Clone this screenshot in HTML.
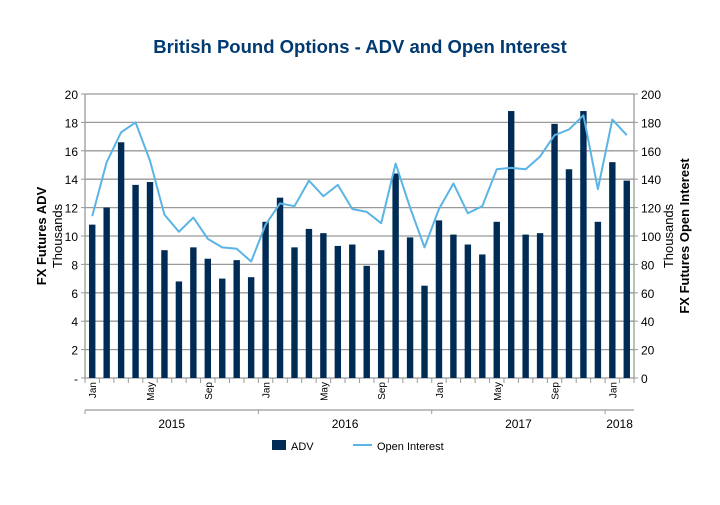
<!DOCTYPE html>
<html><head><meta charset="utf-8"><style>
body{margin:0;background:#fff;}
svg text{font-family:"Liberation Sans",sans-serif;}
</style></head><body>
<svg id="c" width="720" height="500" xmlns="http://www.w3.org/2000/svg">
<text x="360" y="53" text-anchor="middle" font-size="18.5" font-weight="bold" fill="#003a70">British Pound Options - ADV and Open Interest</text>
<g id="grid"></g><g id="bars"></g><g id="line"></g><g id="axes"></g>
<text transform="translate(46,236) rotate(-90)" text-anchor="middle" font-size="13" font-weight="bold" fill="#000">FX Futures ADV</text>
<text transform="translate(62,236) rotate(-90)" text-anchor="middle" font-size="13" fill="#000">Thousands</text>
<text transform="translate(689,236) rotate(-90)" text-anchor="middle" font-size="13" font-weight="bold" fill="#000">FX Futures Open Interest</text>
<text transform="translate(673,236) rotate(-90)" text-anchor="middle" font-size="13" fill="#000">Thousands</text>
<g>
<rect x="272" y="440" width="14" height="10" fill="#002b54"/>
<text x="291" y="450" font-size="11">ADV</text>
<line x1="353" y1="445" x2="372" y2="445" stroke="#5ab4e5" stroke-width="2"/>
<text x="377" y="450" font-size="11">Open Interest</text>
</g>
</svg>
<script>
const months=["Jan","Feb","Mar","Apr","May","Jun","Jul","Aug","Sep","Oct","Nov","Dec"];
const years=["2015","2016","2017","2018"];
const adv=[10.8,12,16.6,13.6,13.8,9,6.8,9.2,8.4,7,8.3,7.1,11,12.7,9.2,10.5,10.2,9.3,9.4,7.9,9,14.4,9.9,6.5,11.1,10.1,9.4,8.7,11,18.8,10.1,10.2,17.9,14.7,18.8,11,15.2,13.9];
const oi=[114,152,173,180,153,115,103,113,98,92,91,82,108,123,121,139,128,136,119,117,109,151,120,92,119,137,116,121,147,148,147,156,171,175,185,133,182,171];
const leftTicks=["-","2","4","6","8","10","12","14","16","18","20"];
const rightTicks=["0","20","40","60","80","100","120","140","160","180","200"];
const X0=85,X1=634,Y0=378,Y1=94,N=adv.length,bw=(X1-X0)/N;
const yL=v=>Y0-(v/20)*(Y0-Y1), yR=v=>Y0-(v/200)*(Y0-Y1), xc=i=>X0+bw*(i+0.5);
const NS="http://www.w3.org/2000/svg";
function mk(p,t,a){const e=document.createElementNS(NS,t);for(const k in a)e.setAttribute(k,a[k]);document.getElementById(p).appendChild(e);return e;}
leftTicks.forEach((t,i)=>{const y=yL(i*2);
 const g=mk('grid','line',{x1:X0,x2:X1,y1:y,y2:y,stroke:'#9a9a9a','stroke-width':1.3});
 
 
 const l=mk('axes','text',{x:X0-7,y:y+5,'text-anchor':'end','font-size':12});l.textContent=t;
 
 
 mk('axes','line',{x1:X0-4,x2:X0,y1:y,y2:y,stroke:'#9a9a9a'});
 const r=mk('axes','text',{x:X1+7,y:y+5,'font-size':12});r.textContent=rightTicks[i];
 
 
 mk('axes','line',{x1:X1,x2:X1+4,y1:y,y2:y,stroke:'#9a9a9a'});
});
mk('axes','line',{x1:X0,x2:X0,y1:Y1,y2:Y0,stroke:'#9a9a9a','stroke-width':1.3});
mk('axes','line',{x1:X1,x2:X1,y1:Y1,y2:Y0,stroke:'#9a9a9a','stroke-width':1.3});
adv.forEach((v,i)=>{const b=mk('bars','rect',{x:xc(i)-3.2,y:yL(v),width:6.4,height:Y0-yL(v),fill:'#002b54'});
 
 
 mk('axes','line',{x1:X0+bw*i,x2:X0+bw*i,y1:Y0,y2:Y0+5,stroke:'#9a9a9a'});
 if(i%4==0){const t=mk('axes','text',{transform:`translate(${xc(i)+4},${Y0+4}) rotate(-90)`,'text-anchor':'end','font-size':10});t.textContent=months[i%12];
  
  }
});
mk('axes','line',{x1:X1,x2:X1,y1:Y0,y2:Y0+5,stroke:'#9a9a9a'});
mk('axes','line',{x1:X0,x2:X1,y1:410,y2:410,stroke:'#9a9a9a','stroke-width':1.3});
years.forEach((yr,k)=>{const s=k*12,e=Math.min(N,s+12);
 mk('axes','line',{x1:X0+bw*s,x2:X0+bw*s,y1:410,y2:414,stroke:'#9a9a9a'});
 const t=mk('axes','text',{x:(X0+bw*s+X0+bw*e)/2,y:428,'text-anchor':'middle','font-size':12});t.textContent=yr;
 
 
});
const p=mk('line','polyline',{points:oi.map((v,i)=>xc(i)+','+yR(v)).join(' '),fill:'none',stroke:'#5ab4e5','stroke-width':2,'stroke-linejoin':'round'});


</script>
</body></html>
